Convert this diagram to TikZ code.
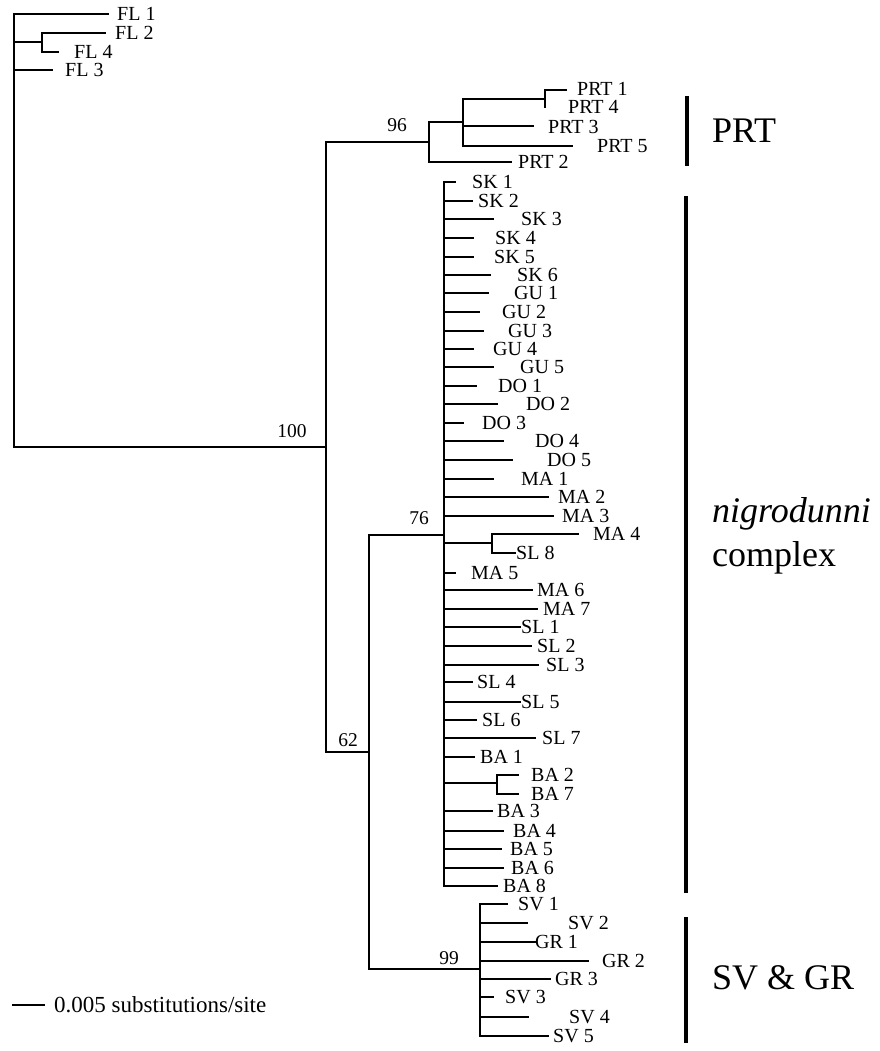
\documentclass[tikz,border=0pt]{standalone}
\usepackage{fontspec}
\setmainfont{Liberation Serif}
\begin{document}
\begin{tikzpicture}[x=1pt,y=-1pt,
  br/.style={line width=1.8pt, line cap=rect},
  leaf/.style={anchor=west, inner sep=0pt, font=\fontsize{20}{20}\selectfont},
  supp/.style={inner sep=0pt, font=\fontsize{19.5}{19.5}\selectfont},
  bar/.style={line width=4pt},
  big/.style={anchor=west, inner sep=0pt, font=\fontsize{36}{36}\selectfont}]
\useasboundingbox (0,0) rectangle (879,1051);

% ---------- internal node coordinates
\coordinate (root) at (14,14);
\coordinate (rootb) at (14,447);
\coordinate (n100) at (326,447);
\coordinate (n100t) at (326,142);
\coordinate (n100b) at (326,752);
\coordinate (n62) at (369,752);
\coordinate (n62t) at (369,535);
\coordinate (n62b) at (369,969);
\coordinate (n76) at (444,535);
\coordinate (nigt) at (444,182);
\coordinate (nigb) at (444,886);
\coordinate (n99) at (480,969);
\coordinate (svt) at (480,904);
\coordinate (svb) at (480,1036);

% ---------- FL outgroup
\coordinate (fl24) at (42,42);
\draw[br] (root) -- (rootb);
\draw[br] (root) -- (108,14) coordinate (eFL1);
\node[leaf] (FL1) at (117,14) {FL 1};
\draw[br] (root |- fl24) -- (fl24);
\draw[br] (42,33) -- (42,52);
\draw[br] (42,33) -- (105,33) coordinate (eFL2);
\node[leaf] (FL2) at (115,33) {FL 2};
\draw[br] (42,52) -- (58,52) coordinate (eFL4);
\node[leaf] (FL4) at (74,52) {FL 4};
\draw[br] (14,70) -- (52,70) coordinate (eFL3);
\node[leaf] (FL3) at (65,70) {FL 3};

% ---------- backbone
\draw[br] (rootb) -- (n100);
\node[supp] (s100) at (292,431) {100};
\draw[br] (n100t) -- (n100b);
\draw[br] (n100b) -- (n62);
\node[supp] (s62) at (348,740) {62};
\draw[br] (n62t) -- (n62b);
\draw[br] (n62t) -- (n76);
\node[supp] (s76) at (419,518) {76};
\draw[br] (nigt) -- (nigb);
\draw[br] (n62b) -- (n99);
\node[supp] (s99) at (449,958) {99};
\draw[br] (svt) -- (svb);

% ---------- PRT clade
\coordinate (n96) at (429,142);
\draw[br] (n100t) -- (n96);
\node[supp] (s96) at (397,125) {96};
\draw[br] (429,122) -- (429,162);
\draw[br] (429,162) -- (511,162) coordinate (ePRT2);
\node[leaf] (PRT2) at (518,162) {PRT 2};
\coordinate (nprt) at (463,122);
\draw[br] (429,122) -- (nprt);
\draw[br] (463,99) -- (463,146);
\draw[br] (463,99) -- (545,99);
\draw[br] (545,90) -- (545,107);
\draw[br] (545,90) -- (566,90) coordinate (ePRT1);
\node[leaf] (PRT1) at (577,89) {PRT 1};
\node[leaf] (PRT4) at (568,107) {PRT 4};
\draw[br] (463,126) -- (533,126) coordinate (ePRT3);
\node[leaf] (PRT3) at (548,127) {PRT 3};
\draw[br] (463,146) -- (572,146) coordinate (ePRT5);
\node[leaf] (PRT5) at (597,146) {PRT 5};

% ---------- nigrodunni complex
\foreach \nm/\yy/\xe/\xl [count=\i] in {
 SK 1/182/455/472, SK 2/201/472/478, SK 3/219/493/521, SK 4/238/473/495,
 SK 5/257/473/494, SK 6/275/490/517, GU 1/293/488/514, GU 2/312/479/502,
 GU 3/331/483/508, GU 4/349/473/493, GU 5/367/493/520, DO 1/386/476/498,
 DO 2/404/497/526, DO 3/423/463/482, DO 4/441/503/535, DO 5/460/512/547,
 MA 1/479/493/521, MA 2/497/548/558, MA 3/516/553/562, MA 5/573/455/471,
 MA 6/590/532/537, MA 7/609/537/543, SL 1/627/520/521, SL 2/646/531/537,
 SL 3/665/538/546, SL 4/682/472/477, SL 5/702/520/521, SL 6/720/476/482,
 SL 7/738/535/542, BA 1/757/474/480, BA 3/811/492/497, BA 4/831/503/513,
 BA 5/849/501/510, BA 6/868/503/511, BA 8/886/497/503}
{
  \coordinate (ng\i) at (\xe,\yy);
  \draw[br] (nigt |- ng\i) -- (ng\i);
  \node[leaf] (lng\i) at (\xl,\yy) {\nm};
}
% MA4 + SL8
\coordinate (nma4) at (492,543);
\draw[br] (nigt |- nma4) -- (nma4);
\draw[br] (492,534) -- (492,553);
\draw[br] (492,534) -- (578,534) coordinate (eMA4);
\node[leaf] (MA4) at (593,534) {MA 4};
\draw[br] (492,553) -- (515,553) coordinate (eSL8);
\node[leaf] (SL8) at (516,553) {SL 8};
% BA2 + BA7
\coordinate (nba2) at (497,783);
\draw[br] (nigt |- nba2) -- (nba2);
\draw[br] (497,775) -- (497,794);
\draw[br] (497,775) -- (518,775) coordinate (eBA2);
\node[leaf] (BA2) at (531,775) {BA 2};
\draw[br] (497,794) -- (518,794) coordinate (eBA7);
\node[leaf] (BA7) at (531,794) {BA 7};

% ---------- SV & GR clade
\foreach \nm/\yy/\xe/\xl [count=\i] in {
 SV 1/904/507/518, SV 2/923/527/568, GR 1/942/535/535, GR 2/961/588/602,
 GR 3/979/550/555, SV 3/997/493/505, SV 4/1017/528/569, SV 5/1036/548/553}
{
  \coordinate (sv\i) at (\xe,\yy);
  \draw[br] (svt |- sv\i) -- (sv\i);
  \node[leaf] (lsv\i) at (\xl,\yy) {\nm};
}

% ---------- group bars and labels
\draw[bar] (687,96) coordinate (bprt1) -- (687,166) coordinate (bprt2);
\node[big] (gPRT) at (712,131) {PRT};
\draw[bar] (686,196) coordinate (bnig1) -- (686,893) coordinate (bnig2);
\node[big, anchor=base west] (gnig) at (712,522) {\itshape nigrodunni};
\node[big, anchor=base west] (gcom) at (712,566) {complex};
\draw[bar] (686,917) coordinate (bsv1) -- (686,1043) coordinate (bsv2);
\node[big] (gSV) at (712,978) {SV \& GR};

% ---------- scale bar
\coordinate (sc1) at (12,1005);
\coordinate (sc2) at (45,1005);
\draw[line width=1.4pt] (sc1) -- (sc2);
\node[anchor=west, inner sep=0pt, font=\fontsize{23}{23}\selectfont] (scl) at (54,1005) {0.005 substitutions/site};
\end{tikzpicture}
\end{document}
